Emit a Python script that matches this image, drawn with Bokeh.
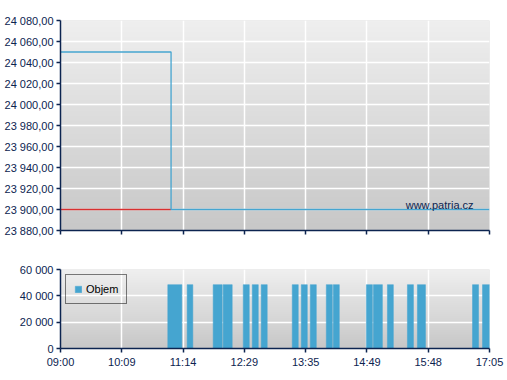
import numpy as np
from bokeh.plotting import figure
from bokeh.layouts import column
from bokeh.models import Range1d, FixedTicker, Label, Legend, LegendItem, ColumnDataSource
from bokeh.embed import file_html
from bokeh.resources import INLINE

# ---------------- data ----------------
# time axis: minutes after 09:00, equal-spaced session ticks
x_tick_labels = ["09:00", "10:09", "11:14", "12:29", "13:35", "14:49", "15:48", "17:05"]
session_minutes = 485

price_times = [0, 125, 485]            # step "after"
price_values = [24050, 23900, 23900]
ref_price = 23900

price_ticks = [23880, 23900, 23920, 23940, 23960, 23980, 24000, 24020, 24040, 24060, 24080]
volume_ticks = [0, 20000, 40000, 60000]

bar_start = [121.3, 143.2, 172.6, 183.9, 206.6, 216.8, 226.9, 262.0, 272.2, 282.4,
             300.5, 308.4, 345.8, 353.7, 369.6, 392.2, 403.5, 465.8, 477.1]
bar_end = [137.2, 149.6, 182.8, 194.1, 213.4, 223.6, 233.7, 268.8, 279.0, 289.2,
           307.3, 315.2, 352.6, 363.9, 376.3, 399.0, 412.6, 472.6, 486.2]
bar_volume = [48500] * 19

# ---------------- styles ----------------
NAVY = "#0c2450"
BLUE = "#45a5d0"
RED = "#d83030"
FONT = "Liberation Sans"

tick_pos = [i * session_minutes / (len(x_tick_labels) - 1) for i in range(len(x_tick_labels))]


def fmt_price(v):
    return f"{v:,.2f}".replace(",", " ").replace(".", ",")


def fmt_vol(v):
    return f"{v:,d}".replace(",", " ")


def gradient(n=120):
    img = np.empty((n, 1), dtype=np.uint32)
    view = img.view(dtype=np.uint8).reshape((n, 1, 4))
    g = np.linspace(200, 239, n).astype(np.uint8)
    view[:, 0, 0] = g
    view[:, 0, 1] = g
    view[:, 0, 2] = g
    view[:, 0, 3] = 255
    return img


def style(p, yticks, yfmt, show_x_labels):
    p.outline_line_color = None
    p.background_fill_color = "#dcdcdc"
    p.border_fill_color = "white"
    for ax in (p.xaxis[0], p.yaxis[0]):
        ax.axis_line_color = NAVY
        ax.axis_line_width = 1.5
        ax.major_tick_line_color = NAVY
        ax.major_tick_line_width = 1.5
        ax.major_tick_out = 4
        ax.major_tick_in = 0
        ax.minor_tick_line_color = None
        ax.major_label_text_font = FONT
        ax.major_label_text_font_size = "11px"
        ax.major_label_text_color = NAVY
        ax.major_label_standoff = 3
    p.xaxis[0].ticker = FixedTicker(ticks=tick_pos)
    if show_x_labels:
        p.xaxis[0].major_label_overrides = {t: lab for t, lab in zip(tick_pos, x_tick_labels)}
    else:
        p.xaxis[0].major_label_overrides = {t: "" for t in tick_pos}
        p.xaxis[0].major_label_standoff = 0
    p.yaxis[0].ticker = FixedTicker(ticks=yticks)
    p.yaxis[0].major_label_overrides = {t: yfmt(t) for t in yticks}
    p.xgrid.ticker = FixedTicker(ticks=tick_pos)
    p.ygrid.ticker = FixedTicker(ticks=yticks)
    for g in (p.xgrid[0], p.ygrid[0]):
        g.grid_line_color = "white"
        g.grid_line_width = 1.5


# ---------------- price chart ----------------
p1 = figure(width=507, height=250, output_backend="svg", toolbar_location=None,
            x_range=Range1d(0, session_minutes), y_range=Range1d(price_ticks[0], price_ticks[-1]),
            min_border_left=60, min_border_right=18, min_border_top=20, min_border_bottom=20)
bg1 = p1.image_rgba(image=[gradient()], x=0, y=price_ticks[0], dw=session_minutes,
                    dh=price_ticks[-1] - price_ticks[0])
bg1.level = "image"
style(p1, price_ticks, fmt_price, False)
p1.line([price_times[0], price_times[1]], [ref_price, ref_price], line_color=RED, line_width=1.3)
p1.step(price_times, price_values, mode="after", line_color=BLUE, line_width=1.3)
p1.add_layout(Label(x=467, y=23904.5, text="www.patria.cz", text_align="right",
                    text_baseline="alphabetic", text_font=FONT, text_font_size="11px",
                    text_color=NAVY))

# ---------------- volume chart ----------------
p2 = figure(width=507, height=130, output_backend="svg", toolbar_location=None,
            x_range=Range1d(0, session_minutes), y_range=Range1d(volume_ticks[0], volume_ticks[-1]),
            min_border_left=60, min_border_right=18, min_border_top=19, min_border_bottom=32)
bg2 = p2.image_rgba(image=[gradient()], x=0, y=volume_ticks[0], dw=session_minutes,
                    dh=volume_ticks[-1] - volume_ticks[0])
bg2.level = "image"
style(p2, volume_ticks, fmt_vol, True)
src = ColumnDataSource(dict(left=bar_start, right=bar_end, top=bar_volume,
                            bottom=[0] * len(bar_volume)))
bars = p2.quad(left="left", right="right", top="top", bottom="bottom", source=src,
               fill_color=BLUE, line_color=BLUE, line_width=0.5)
legend = Legend(items=[LegendItem(label="Objem", renderers=[bars], index=0)], location="top_left",
                glyph_width=8, glyph_height=8, padding=8, label_standoff=4, label_height=12,
                label_text_font=FONT, label_text_font_size="11px", label_text_color="black",
                border_line_color="black", border_line_width=1, background_fill_alpha=0,
                margin=5)
p2.add_layout(legend)

layout = column(p1, p2, spacing=0)
open("out.html", "w").write(file_html(layout, INLINE))
